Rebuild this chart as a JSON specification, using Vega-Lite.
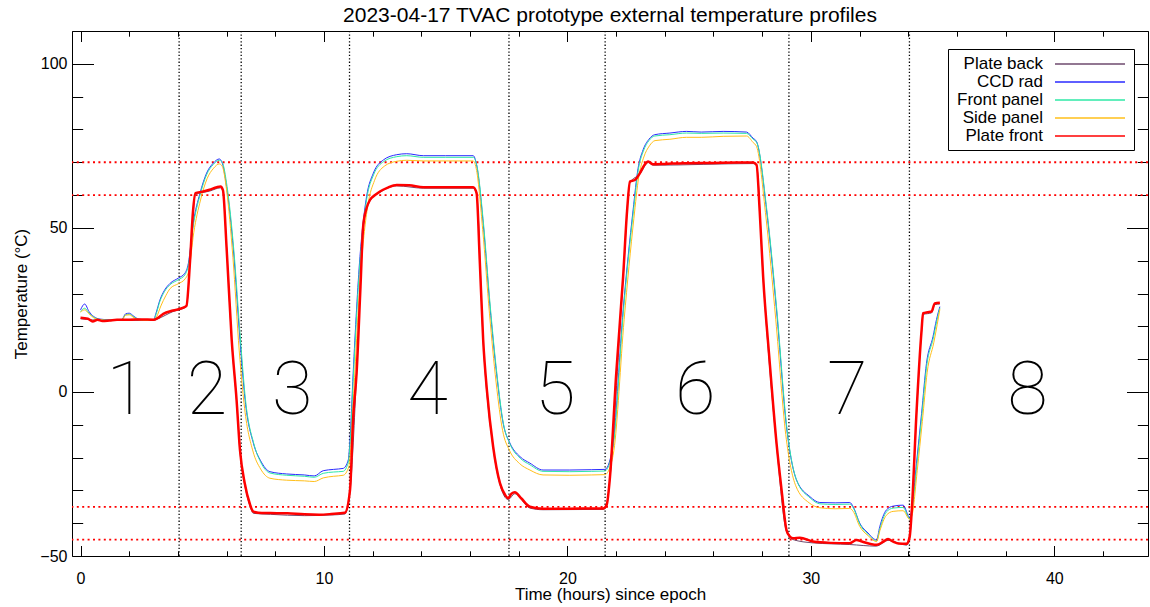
{
  "$schema": "https://vega.github.io/schema/vega-lite/v6.json",
  "width": 1076,
  "height": 525,
  "autosize": {"type": "none"},
  "padding": {"left": 72, "top": 31, "right": 2, "bottom": 51},
  "background": "white",
  "title": {"text": "2023-04-17 TVAC prototype external temperature profiles", "font": "Liberation Sans", "fontSize": 21, "fontWeight": "normal", "color": "black", "offset": 4},
  "config": {
    "view": {"stroke": "black", "strokeWidth": 1},
    "axis": {"grid": false, "domain": false, "labelFont": "Liberation Sans", "titleFont": "Liberation Sans", "labelColor": "black", "titleColor": "black", "tickColor": "black", "tickWidth": 1, "labelFontSize": 16, "titleFontSize": 17, "titleFontWeight": "normal", "labelFlush": false, "labelOverlap": false}
  },
  "datasets": {
    "vlines": [{"t": 4.05}, {"t": 6.6}, {"t": 11.05}, {"t": 17.6}, {"t": 21.55}, {"t": 29.1}, {"t": 34.05}],
    "hlines": [{"T": 70}, {"T": 60}, {"T": -35}, {"T": -45}],
    "regions": [{"n": "1", "t": 1.9, "T": 0}, {"n": "2", "t": 5.2, "T": 0}, {"n": "3", "t": 8.7, "T": 0}, {"n": "4", "t": 14.25, "T": 0}, {"n": "5", "t": 19.5, "T": 0}, {"n": "6", "t": 25.25, "T": 0}, {"n": "7", "t": 31.5, "T": 0}, {"n": "8", "t": 38.9, "T": 0}],
    "thin": [
      {"s":"Plate back","t":0.0,"T":22.3},{"s":"Plate back","t":1.0,"T":21.8},{"s":"Plate back","t":2.0,"T":21.8},{"s":"Plate back","t":3.0,"T":21.8},{"s":"Plate back","t":3.15,"T":22.2},{"s":"Plate back","t":3.8,"T":24.5},{"s":"Plate back","t":4.35,"T":26.0},{"s":"Plate back","t":4.5,"T":39.5},{"s":"Plate back","t":4.72,"T":60.2},{"s":"Plate back","t":5.3,"T":61.2},{"s":"Plate back","t":5.75,"T":62.2},{"s":"Plate back","t":5.85,"T":61.2},{"s":"Plate back","t":6.0,"T":44},{"s":"Plate back","t":6.21,"T":15.5},{"s":"Plate back","t":6.41,"T":-2.8},{"s":"Plate back","t":6.55,"T":-18.2},{"s":"Plate back","t":6.75,"T":-28.5},{"s":"Plate back","t":6.95,"T":-34.5},{"s":"Plate back","t":7.1,"T":-37.0},{"s":"Plate back","t":7.8,"T":-37.3},{"s":"Plate back","t":9.2,"T":-37.7},{"s":"Plate back","t":10.3,"T":-37.5},{"s":"Plate back","t":10.86,"T":-37.2},{"s":"Plate back","t":11.07,"T":-30.3},{"s":"Plate back","t":11.34,"T":5.3},{"s":"Plate back","t":11.61,"T":50},{"s":"Plate back","t":11.89,"T":58.2},{"s":"Plate back","t":12.3,"T":60.8},{"s":"Plate back","t":12.99,"T":62.8},{"s":"Plate back","t":14.08,"T":62.1},{"s":"Plate back","t":16.13,"T":62.1},{"s":"Plate back","t":16.27,"T":60.3},{"s":"Plate back","t":16.54,"T":15.5},{"s":"Plate back","t":16.95,"T":-17},{"s":"Plate back","t":17.23,"T":-28.2},{"s":"Plate back","t":17.57,"T":-32.8},{"s":"Plate back","t":17.84,"T":-31},{"s":"Plate back","t":18.46,"T":-35.4},{"s":"Plate back","t":19.0,"T":-35.9},{"s":"Plate back","t":21.47,"T":-35.8},{"s":"Plate back","t":21.61,"T":-34.8},{"s":"Plate back","t":21.75,"T":-26.2},{"s":"Plate back","t":22.29,"T":34.8},{"s":"Plate back","t":22.57,"T":63.8},{"s":"Plate back","t":22.98,"T":66.4},{"s":"Plate back","t":23.32,"T":69.9},{"s":"Plate back","t":23.52,"T":69.1},{"s":"Plate back","t":27.63,"T":69.6},{"s":"Plate back","t":27.77,"T":68.9},{"s":"Plate back","t":28.04,"T":34.8},{"s":"Plate back","t":28.59,"T":-16},{"s":"Plate back","t":29.0,"T":-42.5},{"s":"Plate back","t":29.27,"T":-45},{"s":"Plate back","t":30.09,"T":-46},{"s":"Plate back","t":31.6,"T":-46.5},{"s":"Plate back","t":32.7,"T":-47},{"s":"Plate back","t":33.17,"T":-45.2},{"s":"Plate back","t":33.93,"T":-46.7},{"s":"Plate back","t":34.06,"T":-44.5},{"s":"Plate back","t":34.14,"T":-37.3},{"s":"Plate back","t":34.34,"T":-6.8},{"s":"Plate back","t":34.55,"T":18.5},{"s":"Plate back","t":34.61,"T":23.6},{"s":"Plate back","t":34.96,"T":24.1},{"s":"Plate back","t":35.09,"T":26.6},{"s":"Plate back","t":35.3,"T":26.8},
      {"s":"CCD rad","t":0.0,"T":25.0},{"s":"CCD rad","t":0.17,"T":26.8},{"s":"CCD rad","t":0.35,"T":24.5},{"s":"CCD rad","t":0.54,"T":23.0},{"s":"CCD rad","t":0.8,"T":22.2},{"s":"CCD rad","t":1.2,"T":22.0},{"s":"CCD rad","t":1.7,"T":22.1},{"s":"CCD rad","t":1.85,"T":23.8},{"s":"CCD rad","t":2.0,"T":24.0},{"s":"CCD rad","t":2.2,"T":23.0},{"s":"CCD rad","t":2.39,"T":22.2},{"s":"CCD rad","t":2.7,"T":22.0},{"s":"CCD rad","t":3.0,"T":22.0},{"s":"CCD rad","t":3.1,"T":24},{"s":"CCD rad","t":3.26,"T":28},{"s":"CCD rad","t":3.45,"T":31},{"s":"CCD rad","t":3.68,"T":33.1},{"s":"CCD rad","t":4.02,"T":34.7},{"s":"CCD rad","t":4.29,"T":36.2},{"s":"CCD rad","t":4.43,"T":39.2},{"s":"CCD rad","t":4.63,"T":51.4},{"s":"CCD rad","t":4.91,"T":60.6},{"s":"CCD rad","t":5.18,"T":66.7},{"s":"CCD rad","t":5.45,"T":69.7},{"s":"CCD rad","t":5.7,"T":71.0},{"s":"CCD rad","t":5.8,"T":70.2},{"s":"CCD rad","t":6.0,"T":62.6},{"s":"CCD rad","t":6.28,"T":43.3},{"s":"CCD rad","t":6.55,"T":15.9},{"s":"CCD rad","t":6.76,"T":-2.4},{"s":"CCD rad","t":7.1,"T":-15.6},{"s":"CCD rad","t":7.4,"T":-21},{"s":"CCD rad","t":7.78,"T":-24.3},{"s":"CCD rad","t":8.47,"T":-25.0},{"s":"CCD rad","t":9.2,"T":-25.3},{"s":"CCD rad","t":9.6,"T":-25.6},{"s":"CCD rad","t":9.97,"T":-24.0},{"s":"CCD rad","t":10.4,"T":-23.6},{"s":"CCD rad","t":10.79,"T":-23.3},{"s":"CCD rad","t":11.0,"T":-20.7},{"s":"CCD rad","t":11.07,"T":-14.6},{"s":"CCD rad","t":11.2,"T":5.7},{"s":"CCD rad","t":11.48,"T":41.3},{"s":"CCD rad","t":11.75,"T":59.5},{"s":"CCD rad","t":12.03,"T":66.7},{"s":"CCD rad","t":12.44,"T":70.7},{"s":"CCD rad","t":12.99,"T":72.3},{"s":"CCD rad","t":13.4,"T":72.6},{"s":"CCD rad","t":14.08,"T":72.0},{"s":"CCD rad","t":15.0,"T":72.0},{"s":"CCD rad","t":16.13,"T":72.0},{"s":"CCD rad","t":16.27,"T":69.2},{"s":"CCD rad","t":16.54,"T":51.4},{"s":"CCD rad","t":16.82,"T":26.0},{"s":"CCD rad","t":17.09,"T":5.7},{"s":"CCD rad","t":17.36,"T":-9.5},{"s":"CCD rad","t":17.64,"T":-15.6},{"s":"CCD rad","t":18.05,"T":-19.7},{"s":"CCD rad","t":18.46,"T":-21.7},{"s":"CCD rad","t":19.0,"T":-23.8},{"s":"CCD rad","t":20.1,"T":-23.8},{"s":"CCD rad","t":21.0,"T":-23.7},{"s":"CCD rad","t":21.54,"T":-23.6},{"s":"CCD rad","t":21.75,"T":-20.7},{"s":"CCD rad","t":21.88,"T":-15.6},{"s":"CCD rad","t":22.29,"T":25},{"s":"CCD rad","t":22.7,"T":55.5},{"s":"CCD rad","t":22.9,"T":68},{"s":"CCD rad","t":23.11,"T":73.8},{"s":"CCD rad","t":23.35,"T":77},{"s":"CCD rad","t":23.59,"T":78.4},{"s":"CCD rad","t":24.21,"T":78.9},{"s":"CCD rad","t":24.89,"T":79.4},{"s":"CCD rad","t":25.5,"T":79.2},{"s":"CCD rad","t":26.4,"T":79.4},{"s":"CCD rad","t":27.36,"T":79.2},{"s":"CCD rad","t":27.63,"T":77.3},{"s":"CCD rad","t":27.77,"T":76.3},{"s":"CCD rad","t":28.18,"T":55.5},{"s":"CCD rad","t":28.59,"T":25},{"s":"CCD rad","t":29.0,"T":-10.6},{"s":"CCD rad","t":29.41,"T":-26.8},{"s":"CCD rad","t":29.96,"T":-31.9},{"s":"CCD rad","t":30.37,"T":-33.7},{"s":"CCD rad","t":31.0,"T":-33.8},{"s":"CCD rad","t":31.6,"T":-33.7},{"s":"CCD rad","t":31.74,"T":-35},{"s":"CCD rad","t":32.01,"T":-40},{"s":"CCD rad","t":32.35,"T":-43},{"s":"CCD rad","t":32.7,"T":-45.1},{"s":"CCD rad","t":32.83,"T":-41.1},{"s":"CCD rad","t":33.1,"T":-36},{"s":"CCD rad","t":33.38,"T":-34.8},{"s":"CCD rad","t":33.79,"T":-34.5},{"s":"CCD rad","t":34.06,"T":-38.2},{"s":"CCD rad","t":34.14,"T":-36},{"s":"CCD rad","t":34.34,"T":-21.7},{"s":"CCD rad","t":34.55,"T":-6.5},{"s":"CCD rad","t":34.75,"T":8.7},{"s":"CCD rad","t":35.02,"T":16.9},{"s":"CCD rad","t":35.16,"T":22},{"s":"CCD rad","t":35.3,"T":26.0},
      {"s":"Front panel","t":0.0,"T":24.5},{"s":"Front panel","t":0.17,"T":25.5},{"s":"Front panel","t":0.35,"T":24.0},{"s":"Front panel","t":0.54,"T":22.8},{"s":"Front panel","t":0.8,"T":22.1},{"s":"Front panel","t":1.2,"T":21.9},{"s":"Front panel","t":1.7,"T":22.0},{"s":"Front panel","t":1.85,"T":23.5},{"s":"Front panel","t":2.0,"T":23.7},{"s":"Front panel","t":2.2,"T":22.8},{"s":"Front panel","t":2.39,"T":22.1},{"s":"Front panel","t":2.7,"T":21.9},{"s":"Front panel","t":3.0,"T":21.9},{"s":"Front panel","t":3.1,"T":23.6},{"s":"Front panel","t":3.26,"T":27.6},{"s":"Front panel","t":3.45,"T":30.6},{"s":"Front panel","t":3.68,"T":32.7},{"s":"Front panel","t":4.02,"T":34.2},{"s":"Front panel","t":4.29,"T":35.7},{"s":"Front panel","t":4.43,"T":38.6},{"s":"Front panel","t":4.63,"T":50.6},{"s":"Front panel","t":4.91,"T":60.0},{"s":"Front panel","t":5.18,"T":66.2},{"s":"Front panel","t":5.45,"T":69.3},{"s":"Front panel","t":5.7,"T":70.6},{"s":"Front panel","t":5.82,"T":70.0},{"s":"Front panel","t":6.02,"T":62.6},{"s":"Front panel","t":6.3,"T":43.0},{"s":"Front panel","t":6.57,"T":15.9},{"s":"Front panel","t":6.78,"T":-2.6},{"s":"Front panel","t":7.12,"T":-15.8},{"s":"Front panel","t":7.4,"T":-21.4},{"s":"Front panel","t":7.78,"T":-24.7},{"s":"Front panel","t":8.47,"T":-25.4},{"s":"Front panel","t":9.2,"T":-25.7},{"s":"Front panel","t":9.6,"T":-26.0},{"s":"Front panel","t":9.97,"T":-24.8},{"s":"Front panel","t":10.4,"T":-24.4},{"s":"Front panel","t":10.79,"T":-24.2},{"s":"Front panel","t":11.0,"T":-21.4},{"s":"Front panel","t":11.08,"T":-15.0},{"s":"Front panel","t":11.21,"T":5.0},{"s":"Front panel","t":11.49,"T":40.7},{"s":"Front panel","t":11.76,"T":59.0},{"s":"Front panel","t":12.04,"T":66.2},{"s":"Front panel","t":12.45,"T":70.2},{"s":"Front panel","t":12.99,"T":71.7},{"s":"Front panel","t":13.4,"T":72.0},{"s":"Front panel","t":14.08,"T":71.5},{"s":"Front panel","t":15.0,"T":71.5},{"s":"Front panel","t":16.13,"T":71.5},{"s":"Front panel","t":16.28,"T":69.0},{"s":"Front panel","t":16.55,"T":51.6},{"s":"Front panel","t":16.83,"T":26.2},{"s":"Front panel","t":17.1,"T":5.8},{"s":"Front panel","t":17.37,"T":-9.6},{"s":"Front panel","t":17.65,"T":-16.0},{"s":"Front panel","t":18.06,"T":-20.2},{"s":"Front panel","t":18.46,"T":-22.2},{"s":"Front panel","t":19.0,"T":-24.2},{"s":"Front panel","t":20.1,"T":-24.3},{"s":"Front panel","t":21.0,"T":-24.2},{"s":"Front panel","t":21.54,"T":-24.1},{"s":"Front panel","t":21.75,"T":-21.2},{"s":"Front panel","t":21.89,"T":-16.0},{"s":"Front panel","t":22.3,"T":24.6},{"s":"Front panel","t":22.71,"T":55.0},{"s":"Front panel","t":22.91,"T":67.6},{"s":"Front panel","t":23.12,"T":73.4},{"s":"Front panel","t":23.35,"T":76.6},{"s":"Front panel","t":23.59,"T":78.0},{"s":"Front panel","t":24.21,"T":78.4},{"s":"Front panel","t":24.89,"T":78.9},{"s":"Front panel","t":25.5,"T":78.8},{"s":"Front panel","t":26.4,"T":78.9},{"s":"Front panel","t":27.36,"T":78.8},{"s":"Front panel","t":27.63,"T":77.0},{"s":"Front panel","t":27.78,"T":76.0},{"s":"Front panel","t":28.19,"T":55.6},{"s":"Front panel","t":28.6,"T":25.2},{"s":"Front panel","t":29.01,"T":-10.6},{"s":"Front panel","t":29.42,"T":-27.0},{"s":"Front panel","t":29.97,"T":-32.3},{"s":"Front panel","t":30.37,"T":-34.1},{"s":"Front panel","t":31.0,"T":-34.3},{"s":"Front panel","t":31.6,"T":-34.2},{"s":"Front panel","t":31.75,"T":-35.4},{"s":"Front panel","t":32.02,"T":-40.4},{"s":"Front panel","t":32.35,"T":-43.4},{"s":"Front panel","t":32.7,"T":-45.4},{"s":"Front panel","t":32.84,"T":-41.6},{"s":"Front panel","t":33.1,"T":-36.6},{"s":"Front panel","t":33.38,"T":-35.4},{"s":"Front panel","t":33.79,"T":-35.2},{"s":"Front panel","t":34.06,"T":-38.6},{"s":"Front panel","t":34.15,"T":-36.5},{"s":"Front panel","t":34.35,"T":-22.5},{"s":"Front panel","t":34.56,"T":-7.2},{"s":"Front panel","t":34.76,"T":8.0},{"s":"Front panel","t":35.03,"T":16.4},{"s":"Front panel","t":35.17,"T":21.5},{"s":"Front panel","t":35.3,"T":25.6},
      {"s":"Side panel","t":0.0,"T":24.3},{"s":"Side panel","t":0.17,"T":25.0},{"s":"Side panel","t":0.35,"T":23.8},{"s":"Side panel","t":0.54,"T":22.6},{"s":"Side panel","t":0.8,"T":22.0},{"s":"Side panel","t":1.2,"T":21.8},{"s":"Side panel","t":1.7,"T":21.9},{"s":"Side panel","t":1.85,"T":23.4},{"s":"Side panel","t":2.0,"T":23.5},{"s":"Side panel","t":2.2,"T":22.6},{"s":"Side panel","t":2.39,"T":22.0},{"s":"Side panel","t":2.7,"T":21.8},{"s":"Side panel","t":3.0,"T":21.8},{"s":"Side panel","t":3.12,"T":22.8},{"s":"Side panel","t":3.3,"T":26.2},{"s":"Side panel","t":3.5,"T":29.3},{"s":"Side panel","t":3.68,"T":31.5},{"s":"Side panel","t":4.02,"T":33.0},{"s":"Side panel","t":4.29,"T":34.4},{"s":"Side panel","t":4.45,"T":37.0},{"s":"Side panel","t":4.65,"T":48.5},{"s":"Side panel","t":4.93,"T":58.5},{"s":"Side panel","t":5.2,"T":65.0},{"s":"Side panel","t":5.47,"T":68.2},{"s":"Side panel","t":5.7,"T":69.5},{"s":"Side panel","t":5.82,"T":68.8},{"s":"Side panel","t":6.0,"T":61.5},{"s":"Side panel","t":6.26,"T":41.0},{"s":"Side panel","t":6.52,"T":12.5},{"s":"Side panel","t":6.74,"T":-5.0},{"s":"Side panel","t":7.08,"T":-18.0},{"s":"Side panel","t":7.4,"T":-23.5},{"s":"Side panel","t":7.78,"T":-26.3},{"s":"Side panel","t":8.47,"T":-26.9},{"s":"Side panel","t":9.2,"T":-27.1},{"s":"Side panel","t":9.6,"T":-27.3},{"s":"Side panel","t":9.97,"T":-26.2},{"s":"Side panel","t":10.4,"T":-25.7},{"s":"Side panel","t":10.79,"T":-25.4},{"s":"Side panel","t":11.02,"T":-22.8},{"s":"Side panel","t":11.1,"T":-17.5},{"s":"Side panel","t":11.24,"T":2.0},{"s":"Side panel","t":11.52,"T":37.5},{"s":"Side panel","t":11.8,"T":56.8},{"s":"Side panel","t":12.08,"T":64.5},{"s":"Side panel","t":12.48,"T":68.8},{"s":"Side panel","t":12.99,"T":70.3},{"s":"Side panel","t":13.4,"T":70.6},{"s":"Side panel","t":14.08,"T":70.4},{"s":"Side panel","t":15.0,"T":70.4},{"s":"Side panel","t":16.13,"T":70.4},{"s":"Side panel","t":16.27,"T":67.5},{"s":"Side panel","t":16.52,"T":49.5},{"s":"Side panel","t":16.8,"T":23.8},{"s":"Side panel","t":17.07,"T":3.0},{"s":"Side panel","t":17.34,"T":-11.8},{"s":"Side panel","t":17.62,"T":-17.8},{"s":"Side panel","t":18.03,"T":-21.8},{"s":"Side panel","t":18.46,"T":-23.8},{"s":"Side panel","t":19.0,"T":-25.3},{"s":"Side panel","t":20.1,"T":-25.4},{"s":"Side panel","t":21.0,"T":-25.3},{"s":"Side panel","t":21.54,"T":-25.2},{"s":"Side panel","t":21.77,"T":-22.5},{"s":"Side panel","t":21.91,"T":-17.8},{"s":"Side panel","t":22.33,"T":22.0},{"s":"Side panel","t":22.73,"T":52.8},{"s":"Side panel","t":22.93,"T":65.5},{"s":"Side panel","t":23.14,"T":71.6},{"s":"Side panel","t":23.37,"T":75.0},{"s":"Side panel","t":23.6,"T":76.6},{"s":"Side panel","t":24.21,"T":77.0},{"s":"Side panel","t":24.89,"T":77.6},{"s":"Side panel","t":25.5,"T":77.6},{"s":"Side panel","t":26.4,"T":77.9},{"s":"Side panel","t":27.36,"T":78.0},{"s":"Side panel","t":27.63,"T":76.0},{"s":"Side panel","t":27.77,"T":74.8},{"s":"Side panel","t":28.16,"T":53.0},{"s":"Side panel","t":28.56,"T":22.0},{"s":"Side panel","t":28.97,"T":-13.0},{"s":"Side panel","t":29.38,"T":-28.6},{"s":"Side panel","t":29.93,"T":-33.8},{"s":"Side panel","t":30.37,"T":-35.3},{"s":"Side panel","t":31.0,"T":-35.6},{"s":"Side panel","t":31.6,"T":-35.5},{"s":"Side panel","t":31.74,"T":-36.4},{"s":"Side panel","t":32.01,"T":-41.0},{"s":"Side panel","t":32.35,"T":-43.8},{"s":"Side panel","t":32.7,"T":-45.6},{"s":"Side panel","t":32.84,"T":-42.2},{"s":"Side panel","t":33.1,"T":-37.6},{"s":"Side panel","t":33.38,"T":-36.4},{"s":"Side panel","t":33.79,"T":-36.2},{"s":"Side panel","t":34.06,"T":-38.8},{"s":"Side panel","t":34.16,"T":-37.5},{"s":"Side panel","t":34.37,"T":-24.0},{"s":"Side panel","t":34.58,"T":-9.0},{"s":"Side panel","t":34.78,"T":6.0},{"s":"Side panel","t":35.05,"T":15.0},{"s":"Side panel","t":35.19,"T":20.5},{"s":"Side panel","t":35.3,"T":25.2}
    ],
    "front": [
      {"s":"Plate front","t":0.0,"T":22.6},{"s":"Plate front","t":0.3,"T":22.3},{"s":"Plate front","t":0.5,"T":21.5},{"s":"Plate front","t":0.7,"T":22.0},{"s":"Plate front","t":0.9,"T":21.6},{"s":"Plate front","t":1.2,"T":21.8},{"s":"Plate front","t":1.5,"T":22.0},{"s":"Plate front","t":2.0,"T":22.0},{"s":"Plate front","t":2.5,"T":22.1},{"s":"Plate front","t":3.0,"T":22.0},{"s":"Plate front","t":3.15,"T":22.4},{"s":"Plate front","t":3.4,"T":23.8},{"s":"Plate front","t":3.8,"T":24.8},{"s":"Plate front","t":4.2,"T":25.6},{"s":"Plate front","t":4.35,"T":26.2},{"s":"Plate front","t":4.5,"T":40},{"s":"Plate front","t":4.62,"T":55},{"s":"Plate front","t":4.72,"T":60.6},{"s":"Plate front","t":5.0,"T":61.0},{"s":"Plate front","t":5.3,"T":61.6},{"s":"Plate front","t":5.6,"T":62.4},{"s":"Plate front","t":5.75,"T":62.6},{"s":"Plate front","t":5.85,"T":61.5},{"s":"Plate front","t":6.0,"T":44},{"s":"Plate front","t":6.21,"T":15.9},{"s":"Plate front","t":6.41,"T":-2.4},{"s":"Plate front","t":6.55,"T":-17.7},{"s":"Plate front","t":6.75,"T":-28},{"s":"Plate front","t":6.95,"T":-34},{"s":"Plate front","t":7.1,"T":-36.5},{"s":"Plate front","t":7.3,"T":-36.8},{"s":"Plate front","t":7.8,"T":-36.9},{"s":"Plate front","t":8.5,"T":-37.0},{"s":"Plate front","t":9.2,"T":-37.3},{"s":"Plate front","t":9.8,"T":-37.4},{"s":"Plate front","t":10.3,"T":-37.2},{"s":"Plate front","t":10.86,"T":-36.8},{"s":"Plate front","t":11.07,"T":-29.9},{"s":"Plate front","t":11.2,"T":-8},{"s":"Plate front","t":11.34,"T":5.7},{"s":"Plate front","t":11.5,"T":32},{"s":"Plate front","t":11.61,"T":50.4},{"s":"Plate front","t":11.75,"T":56},{"s":"Plate front","t":11.89,"T":58.5},{"s":"Plate front","t":12.1,"T":60},{"s":"Plate front","t":12.3,"T":61.1},{"s":"Plate front","t":12.6,"T":62.2},{"s":"Plate front","t":12.99,"T":63.1},{"s":"Plate front","t":13.5,"T":63.0},{"s":"Plate front","t":14.08,"T":62.4},{"s":"Plate front","t":15.0,"T":62.4},{"s":"Plate front","t":16.13,"T":62.4},{"s":"Plate front","t":16.27,"T":60.6},{"s":"Plate front","t":16.4,"T":40},{"s":"Plate front","t":16.54,"T":15.9},{"s":"Plate front","t":16.7,"T":0},{"s":"Plate front","t":16.95,"T":-16.7},{"s":"Plate front","t":17.23,"T":-27.8},{"s":"Plate front","t":17.45,"T":-31.5},{"s":"Plate front","t":17.57,"T":-32.4},{"s":"Plate front","t":17.7,"T":-31.0},{"s":"Plate front","t":17.84,"T":-30.6},{"s":"Plate front","t":18.1,"T":-32.4},{"s":"Plate front","t":18.46,"T":-35.0},{"s":"Plate front","t":19.0,"T":-35.6},{"s":"Plate front","t":20.0,"T":-35.6},{"s":"Plate front","t":21.0,"T":-35.5},{"s":"Plate front","t":21.47,"T":-35.5},{"s":"Plate front","t":21.61,"T":-34.5},{"s":"Plate front","t":21.75,"T":-25.8},{"s":"Plate front","t":22.0,"T":5},{"s":"Plate front","t":22.29,"T":35.2},{"s":"Plate front","t":22.45,"T":55},{"s":"Plate front","t":22.57,"T":64.1},{"s":"Plate front","t":22.77,"T":64.6},{"s":"Plate front","t":22.98,"T":66.7},{"s":"Plate front","t":23.15,"T":69},{"s":"Plate front","t":23.32,"T":70.2},{"s":"Plate front","t":23.52,"T":69.4},{"s":"Plate front","t":24.0,"T":69.5},{"s":"Plate front","t":24.76,"T":69.7},{"s":"Plate front","t":26.0,"T":69.8},{"s":"Plate front","t":27.0,"T":69.9},{"s":"Plate front","t":27.63,"T":69.9},{"s":"Plate front","t":27.77,"T":69.2},{"s":"Plate front","t":27.9,"T":55},{"s":"Plate front","t":28.04,"T":35.2},{"s":"Plate front","t":28.3,"T":10},{"s":"Plate front","t":28.59,"T":-15.6},{"s":"Plate front","t":28.8,"T":-30},{"s":"Plate front","t":29.0,"T":-42.1},{"s":"Plate front","t":29.14,"T":-44.1},{"s":"Plate front","t":29.27,"T":-44.6},{"s":"Plate front","t":29.55,"T":-44.4},{"s":"Plate front","t":30.09,"T":-45.6},{"s":"Plate front","t":30.8,"T":-46.0},{"s":"Plate front","t":31.6,"T":-46.1},{"s":"Plate front","t":31.88,"T":-45.1},{"s":"Plate front","t":32.1,"T":-45.6},{"s":"Plate front","t":32.7,"T":-46.6},{"s":"Plate front","t":32.95,"T":-45.8},{"s":"Plate front","t":33.17,"T":-44.8},{"s":"Plate front","t":33.38,"T":-45.6},{"s":"Plate front","t":33.6,"T":-46.2},{"s":"Plate front","t":33.93,"T":-46.3},{"s":"Plate front","t":34.06,"T":-44.1},{"s":"Plate front","t":34.14,"T":-36.9},{"s":"Plate front","t":34.34,"T":-6.4},{"s":"Plate front","t":34.55,"T":18.9},{"s":"Plate front","t":34.61,"T":24.0},{"s":"Plate front","t":34.8,"T":24.3},{"s":"Plate front","t":34.96,"T":24.5},{"s":"Plate front","t":35.09,"T":27.0},{"s":"Plate front","t":35.3,"T":27.2}
    ]
  },
  "resolve": {"axis": {"x": "independent", "y": "independent"}},
  "layer": [
    {
      "data": {"name": "vlines"},
      "mark": {"type": "rule", "color": "black", "strokeWidth": 1.3, "strokeDash": [1.3, 2.1]},
      "encoding": {"x": {"field": "t", "type": "quantitative", "axis": null, "scale": {"domain": [-0.35, 43.85], "nice": false, "zero": false}}}
    },
    {
      "data": {"name": "hlines"},
      "mark": {"type": "rule", "color": "#ff0000", "strokeWidth": 1.8, "strokeDash": [2, 3.4]},
      "encoding": {"y": {"field": "T", "type": "quantitative", "axis": null, "scale": {"domain": [-50, 110], "nice": false, "zero": false}}}
    },
    {
      "data": {"name": "thin"},
      "mark": {"type": "line", "interpolate": "monotone"},
      "encoding": {
        "x": {"field": "t", "type": "quantitative", "scale": {"domain": [-0.35, 43.85], "nice": false, "zero": false},
              "axis": {"orient": "bottom", "title": "Time (hours) since epoch", "values": [0, 10, 20, 30, 40], "ticks": false, "labelPadding": 14, "titlePadding": 0}},
        "y": {"field": "T", "type": "quantitative", "scale": {"domain": [-50, 110], "nice": false, "zero": false},
              "axis": {"orient": "left", "title": "Temperature (°C)", "values": [-50, 0, 50, 100], "ticks": false, "labelPadding": 5, "titlePadding": 9}},
        "color": {"field": "s", "type": "nominal",
                  "scale": {"domain": ["Plate back", "CCD rad", "Front panel", "Side panel", "Plate front"], "range": ["#6e4a6e", "#2a2aff", "#2ee8a6", "#ffbf1a", "#ff0000"]},
                  "legend": {"title": null, "orient": "none", "legendX": 876, "legendY": 18, "symbolType": "M-4.375,0H4.375", "symbolSize": 256, "symbolOffset": 127, "labelAlign": "right", "labelOffset": -56, "labelFont": "Liberation Sans", "labelFontSize": 17, "labelColor": "black", "strokeColor": "black", "fillColor": "white", "padding": 6, "rowPadding": 1, "labelLimit": 0, "symbolOpacity": 1}},
        "strokeWidth": {"field": "s", "type": "nominal",
                  "scale": {"type": "ordinal", "domain": ["Plate back", "CCD rad", "Front panel", "Side panel", "Plate front"], "range": [1, 1, 1, 1, 3.3]}}
      }
    },
    {
      "data": {"name": "front"},
      "mark": {"type": "line", "interpolate": "monotone"},
      "encoding": {
        "x": {"field": "t", "type": "quantitative", "scale": {"domain": [-0.35, 43.85], "nice": false, "zero": false},
              "axis": {"orient": "bottom", "title": null, "labels": false, "values": [0,2,4,6,8,10,12,14,16,18,20,22,24,26,28,30,32,34,36,38,40,42],
                       "tickSize": {"condition": {"test": "datum.value % 10 === 0", "value": -10.5}, "value": -5.2}}},
        "y": {"field": "T", "type": "quantitative", "scale": {"domain": [-50, 110], "nice": false, "zero": false},
              "axis": {"orient": "left", "title": null, "labels": false, "values": [-50,-40,-30,-20,-10,0,10,20,30,40,50,60,70,80,90,100,110],
                       "tickSize": {"condition": {"test": "datum.value % 50 === 0", "value": -21.5}, "value": -10.7}}},
        "color": {"field": "s", "type": "nominal"},
        "strokeWidth": {"field": "s", "type": "nominal"}
      }
    },
    {
      "data": {"name": "regions"},
      "mark": {"type": "text", "font": "Roboto", "fontWeight": 100, "fontSize": 74, "baseline": "middle", "align": "center", "color": "black"},
      "encoding": {
        "x": {"field": "t", "type": "quantitative", "scale": {"domain": [-0.35, 43.85], "nice": false, "zero": false},
              "axis": {"orient": "top", "title": null, "labels": false, "values": [0,2,4,6,8,10,12,14,16,18,20,22,24,26,28,30,32,34,36,38,40,42],
                       "tickSize": {"condition": {"test": "datum.value % 10 === 0", "value": -10.5}, "value": -5.2}}},
        "y": {"field": "T", "type": "quantitative", "scale": {"domain": [-50, 110], "nice": false, "zero": false},
              "axis": {"orient": "right", "title": null, "labels": false, "values": [-50,-40,-30,-20,-10,0,10,20,30,40,50,60,70,80,90,100,110],
                       "tickSize": {"condition": {"test": "datum.value % 50 === 0", "value": -21.5}, "value": -10.7}}},
        "text": {"field": "n"}
      }
    }
  ]
}
